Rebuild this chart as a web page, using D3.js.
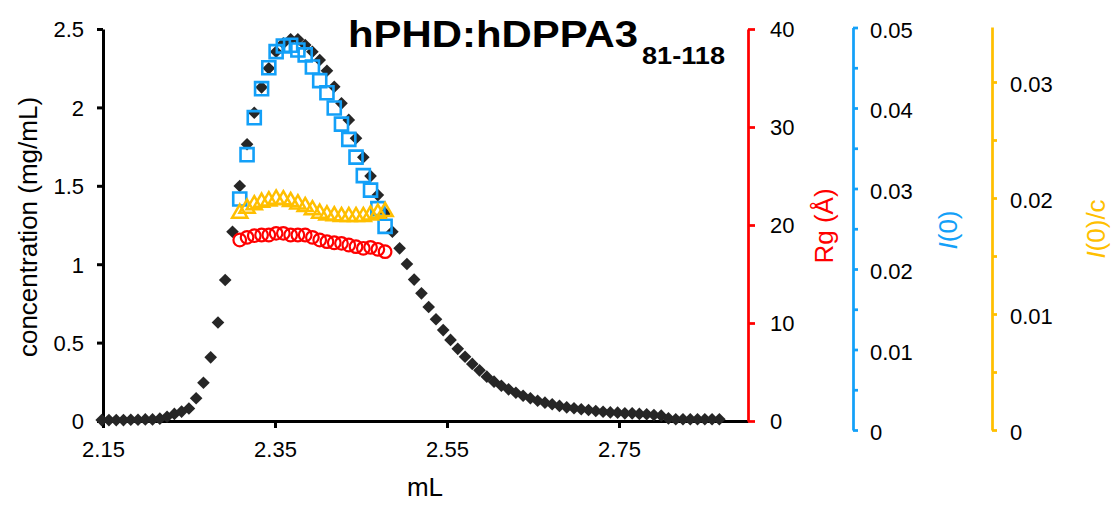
<!DOCTYPE html>
<html>
<head>
<meta charset="utf-8">
<script src="https://d3js.org/d3.v7.min.js"></script>
<style>
  html, body { margin: 0; padding: 0; background: #fff; }
  svg { display: block; font-family: "Liberation Sans", Arial, Helvetica, sans-serif; }
</style>
</head>
<body>
<svg id="chart" width="1118" height="509"></svg>
<script>
// --- data ---
// elution volume (mL) of each concentration point
const volume = [
  2.1485, 2.1569, 2.1654, 2.1738, 2.1823, 2.1907, 2.1992, 2.2076, 2.2161, 2.2245,
  2.2330, 2.2414, 2.2499, 2.2583, 2.2668, 2.2752, 2.2837, 2.2921, 2.3006, 2.3090,
  2.3175, 2.3259, 2.3344, 2.3428, 2.3513, 2.3597, 2.3682, 2.3766, 2.3851, 2.3935,
  2.4020, 2.4104, 2.4189, 2.4273, 2.4358, 2.4442, 2.4527, 2.4611, 2.4696, 2.4780,
  2.4865, 2.4949, 2.5034, 2.5118, 2.5203, 2.5287, 2.5372, 2.5456, 2.5541, 2.5625,
  2.5710, 2.5794, 2.5878, 2.5963, 2.6047, 2.6132, 2.6216, 2.6301, 2.6385, 2.6470,
  2.6554, 2.6639, 2.6723, 2.6808, 2.6892, 2.6977, 2.7061, 2.7146, 2.7230, 2.7315,
  2.7399, 2.7484, 2.7568, 2.7653, 2.7737, 2.7822, 2.7906, 2.7991, 2.8075, 2.8160,
  2.8244, 2.8329, 2.8413, 2.8498, 2.8582, 2.8667
];
// concentration (mg/mL)
const concentration = [
  0.006, 0.006, 0.006, 0.006, 0.008, 0.008, 0.010, 0.010, 0.015, 0.027,
  0.045, 0.060, 0.080, 0.145, 0.244, 0.406, 0.628, 0.899, 1.207, 1.499,
  1.765, 1.966, 2.128, 2.249, 2.355, 2.409, 2.434, 2.434, 2.398, 2.355,
  2.302, 2.234, 2.132, 2.026, 1.920, 1.803, 1.682, 1.562, 1.441, 1.325,
  1.207, 1.101, 1.001, 0.902, 0.814, 0.727, 0.649, 0.580, 0.517, 0.460,
  0.410, 0.364, 0.323, 0.283, 0.251, 0.225, 0.202, 0.180, 0.161, 0.145,
  0.129, 0.117, 0.107, 0.096, 0.087, 0.081, 0.075, 0.070, 0.064, 0.059,
  0.055, 0.053, 0.049, 0.049, 0.045, 0.043, 0.038, 0.034, 0.017, 0.011,
  0.011, 0.011, 0.011, 0.011, 0.011, 0.011
];

// SAXS frames
const saxsVolume = [
  2.3090, 2.3175, 2.3259, 2.3344, 2.3428, 2.3513, 2.3597, 2.3682, 2.3766, 2.3851,
  2.3935, 2.4020, 2.4104, 2.4189, 2.4273, 2.4358, 2.4442, 2.4527, 2.4611, 2.4696,
  2.4780
];
const rg = [
  18.47, 18.74, 18.91, 18.98, 18.98, 19.15, 19.15, 18.98, 18.98, 18.98,
  18.74, 18.47, 18.30, 18.19, 18.13, 17.96, 17.79, 17.62, 17.72, 17.52,
  17.28
];
const i0 = [
  0.0287, 0.0342, 0.0388, 0.0424, 0.0450, 0.0470, 0.0477, 0.0478, 0.0472, 0.0466,
  0.0451, 0.0434, 0.0419, 0.0400, 0.0380, 0.0361, 0.0339, 0.0316, 0.0298, 0.0275,
  0.0253
];
const i0c = [
  0.01868, 0.01911, 0.01940, 0.01963, 0.01974, 0.01989, 0.01983, 0.01968, 0.01948, 0.01925,
  0.01897, 0.01868, 0.01853, 0.01845, 0.01839, 0.01839, 0.01839, 0.01839, 0.01853, 0.01868,
  0.01882
];

// tick labels
const xTicks = [2.15, 2.35, 2.55, 2.75];
const concTicks = [0, 0.5, 1, 1.5, 2, 2.5];
const rgTicks = [0, 10, 20, 30, 40];
const i0Ticks = [0, 0.005, 0.01, 0.015, 0.02, 0.025, 0.03, 0.035, 0.04, 0.045, 0.05];
const i0Labels = [0, 0.01, 0.02, 0.03, 0.04, 0.05];
const i0cTicks = [0, 0.005, 0.01, 0.015, 0.02, 0.025, 0.03];
const i0cLabels = [0, 0.01, 0.02, 0.03];

// --- colours ---
const RED = "#ff0000", BLUE = "#13a0f8", GOLD = "#ffbf00", DARK = "#262626";

const svg = d3.select("#chart");

// scales
const x = d3.scaleLinear().domain([2.15, 2.90]).range([103, 748]);
const yConc = d3.scaleLinear().domain([0, 2.5]).range([421, 29]);
const yRg = d3.scaleLinear().domain([0, 40]).range([421, 29]);
const yI0 = d3.scaleLinear().domain([0, 0.05]).range([430, 27.5]);
const yI0c = d3.scaleLinear().domain([0, 0.03474]).range([430, 27]);

const fmt = d3.format("");

function styleAxis(g, color, width) {
  g.select(".domain").attr("stroke", color).attr("stroke-width", width);
  g.selectAll(".tick line").attr("stroke", color).attr("stroke-width", width);
  g.selectAll(".tick text").attr("fill", "#000").attr("font-size", 22);
}

// left axis
svg.append("g")
  .attr("transform", "translate(103,0)")
  .call(d3.axisLeft(yConc).tickValues(concTicks).tickFormat(fmt).tickSize(6).tickSizeOuter(0).tickPadding(13))
  .call(g => styleAxis(g, "#000", 3))
  .call(g => g.selectAll(".tick text").attr("dy", "0.36em"));

// bottom axis
svg.append("g")
  .attr("transform", "translate(0,421)")
  .call(d3.axisBottom(x).tickValues(xTicks).tickFormat(d3.format(".2f")).tickSize(7).tickSizeOuter(0).tickPadding(13))
  .call(g => styleAxis(g, "#000", 3));

// Rg axis
svg.append("g")
  .attr("transform", "translate(748,0)")
  .call(d3.axisRight(yRg).tickValues(rgTicks).tickFormat(fmt).tickSize(7).tickSizeOuter(0).tickPadding(15))
  .call(g => styleAxis(g, RED, 2.75))
  .call(g => g.selectAll(".tick text").attr("dy", "0.36em"));

// I(0) axis
svg.append("g")
  .attr("transform", "translate(853,0)")
  .call(d3.axisRight(yI0).tickValues(i0Ticks)
    .tickFormat(d => i0Labels.some(v => Math.abs(v - d) < 1e-9) ? fmt(d) : "")
    .tickSize(5).tickSizeOuter(0).tickPadding(12))
  .call(g => styleAxis(g, BLUE, 2.75))
  .call(g => g.selectAll(".tick text").attr("dy", "0.45em"));

// I(0)/c axis
svg.append("g")
  .attr("transform", "translate(992,0)")
  .call(d3.axisRight(yI0c).tickValues(i0cTicks)
    .tickFormat(d => i0cLabels.some(v => Math.abs(v - d) < 1e-9) ? fmt(d) : "")
    .tickSize(5).tickSizeOuter(0).tickPadding(13))
  .call(g => styleAxis(g, GOLD, 2.75))
  .call(g => g.selectAll(".tick text").attr("dy", "0.45em"));

// axis titles
svg.append("text")
  .attr("transform", "translate(37,227) rotate(-90)")
  .attr("text-anchor", "middle").attr("font-size", 26)
  .text("concentration (mg/mL)");

svg.append("text")
  .attr("x", 425).attr("y", 496)
  .attr("text-anchor", "middle").attr("font-size", 26)
  .text("mL");

svg.append("text")
  .attr("transform", "translate(833,226) rotate(-90)")
  .attr("text-anchor", "middle").attr("font-size", 26).attr("fill", RED)
  .text("Rg (Å)");

const t1 = svg.append("text")
  .attr("transform", "translate(957,230) rotate(-90)")
  .attr("text-anchor", "middle").attr("font-size", 26).attr("fill", BLUE);
t1.append("tspan").attr("font-style", "italic").text("I");
t1.append("tspan").text("(0)");

const t2 = svg.append("text")
  .attr("transform", "translate(1105,229) rotate(-90)")
  .attr("text-anchor", "middle").attr("font-size", 26).attr("fill", GOLD);
t2.append("tspan").attr("font-style", "italic").text("I");
t2.append("tspan").text("(0)/c");

// title
svg.append("text")
  .attr("x", 348).attr("y", 47)
  .attr("font-size", 36).attr("font-weight", "bold")
  .attr("textLength", 290).attr("lengthAdjust", "spacingAndGlyphs")
  .text("hPHD:hDPPA3");
svg.append("text")
  .attr("x", 642).attr("y", 64)
  .attr("font-size", 23).attr("font-weight", "bold")
  .attr("textLength", 83).attr("lengthAdjust", "spacingAndGlyphs")
  .text("81-118");

// --- marks ---
const concData = volume.map((v, i) => ({ v, c: concentration[i] }));
const saxsData = saxsVolume.map((v, i) => ({ v, rg: rg[i], i0: i0[i], i0c: i0c[i] }));

const diamond = d3.symbol().type(d3.symbolSquare).size(80);
svg.append("g")
  .selectAll("path")
  .data(concData)
  .join("path")
  .attr("d", diamond)
  .attr("transform", d => `translate(${x(d.v)},${yConc(d.c)}) rotate(45)`)
  .attr("fill", DARK);

const square = d3.symbol().type(d3.symbolSquare).size(170);
svg.append("g")
  .selectAll("path")
  .data(saxsData)
  .join("path")
  .attr("d", square)
  .attr("transform", d => `translate(${x(d.v)},${yI0(d.i0)})`)
  .attr("fill", "none").attr("stroke", BLUE).attr("stroke-width", 2.6);

const tri = d3.symbol().type(d3.symbolTriangle).size(100);
svg.append("g")
  .selectAll("path")
  .data(saxsData)
  .join("path")
  .attr("d", tri)
  .attr("transform", d => `translate(${x(d.v)},${yI0c(d.i0c)})`)
  .attr("fill", "none").attr("stroke", GOLD).attr("stroke-width", 2.5);

svg.append("g")
  .selectAll("circle")
  .data(saxsData)
  .join("circle")
  .attr("cx", d => x(d.v))
  .attr("cy", d => yRg(d.rg))
  .attr("r", 6.3)
  .attr("fill", "none").attr("stroke", RED).attr("stroke-width", 2.2);
</script>
</body>
</html>
